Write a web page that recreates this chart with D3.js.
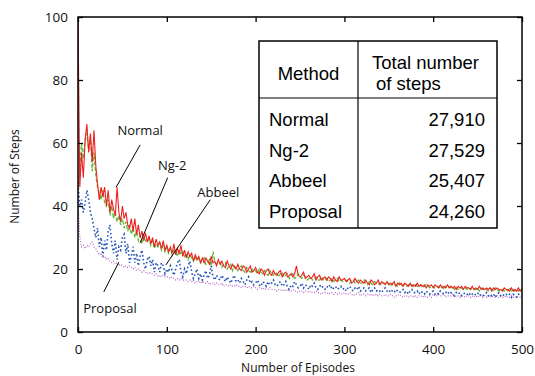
<!DOCTYPE html>
<html>
<head>
<meta charset="utf-8">
<script src="https://cdn.jsdelivr.net/npm/d3@7"></script>
<style>
  body { margin: 0; background: #fff; }
  svg { display: block; }
  .axis path { display: none; }
  .axis line { stroke: #000; stroke-width: 1.3; }
  .axis text { font-family: "Open Sans", sans-serif; font-size: 13.5px; fill: #111; }
  .lbl { font-family: "Open Sans", sans-serif; font-size: 12px; fill: #111; }
  .note { font-family: "Open Sans", sans-serif; font-size: 13px; fill: #111; }
  .tbl { font-family: "Liberation Sans", Arial, sans-serif; font-size: 18.5px; fill: #000; }
</style>
</head>
<body>
<svg id="chart" width="535" height="376"></svg>
<script>
// one value every 2 episodes, episode 0..500
var episodeStep = 2;

var normal = [
  100, 46, 57, 49, 61, 66, 57, 63, 54, 64,
  53, 47, 42, 46, 43, 46, 40, 45, 38, 42,
  39, 37, 46, 38, 35, 40, 36, 38, 34, 33,
  36, 32, 36, 31, 34, 30, 32, 29, 31.5, 28.5,
  30.5, 28, 30, 27, 29.5, 27.5, 28.5, 26.5, 29, 26,
  27.5, 25.5, 27, 25, 28, 24.5, 26.5, 25, 27.5, 24,
  26, 23.5, 25.5, 24, 25, 22.5, 24.5, 23, 24, 22,
  23.5, 22, 23.5, 22.5, 21.5, 24, 22, 22.5, 21, 23,
  21.5, 22.5, 21, 20.5, 22.5, 21, 20, 21.5, 20.5, 20,
  21.5, 20, 19.5, 21, 20.5, 19, 20, 21, 19, 19.5,
  20.5, 19, 18.5, 20, 19.5, 18, 19.5, 20, 18.5, 18,
  19.5, 18.5, 18, 19, 19.5, 17.5, 18.5, 19, 17.5, 18,
  18.5, 17.5, 18.5, 21, 18, 17.5, 18, 19, 17, 17.5,
  18, 17, 17.5, 18.5, 16.5, 17.5, 18, 16.5, 17, 17.5,
  16.5, 17.5, 17, 16, 17.5, 16.5, 16, 17.5, 16.5, 16.5,
  17, 16, 16.5, 17, 15.5, 16, 17, 16, 15.5, 16.5,
  16, 15.5, 16.5, 15.5, 15, 16.5, 16, 15, 15.5, 16.5,
  15, 16, 15.5, 15, 16, 15, 15.5, 15, 16, 14.5,
  15.5, 15, 15.5, 14.5, 15.5, 15, 14.5, 15.5, 14.5, 15,
  14.5, 15.5, 14.5, 15, 14.5, 15, 14, 15, 14.5, 15,
  14, 15, 14.5, 14, 15, 14, 14.5, 14, 15, 14,
  14.5, 14, 14.5, 13.5, 14.5, 14, 14.5, 13.5, 14.5, 14,
  14, 13.5, 14.5, 13.5, 14, 13.5, 14.5, 13.5, 14, 13.5,
  14, 13.5, 14, 13, 14, 13.5, 14, 13.5, 13.5, 13,
  14, 13.5, 13.5, 13, 14, 13, 13.5, 13, 14, 13,
  13.5
];

var ng2 = [
  45, 52, 60, 55, 61, 63, 58, 62, 51, 57,
  50, 46, 44, 42, 45, 41, 40, 42, 37, 40,
  36, 38, 35, 37, 34, 36, 33, 35, 32, 34,
  31, 33, 30, 32, 29, 30.5, 28, 30, 29, 28.5,
  29.5, 27.5, 29, 26.5, 28, 27, 28.5, 26, 27.5, 25.5,
  27, 25, 26.5, 24.5, 26, 25.5, 24, 26, 24.5, 25.5,
  24, 25, 23, 24.5, 23.5, 22.5, 24, 22.5, 23.5, 22,
  22.5, 23.5, 21.5, 22, 23, 21, 25.5, 22.5, 21.5, 22,
  22, 20.5, 21.5, 22, 20, 21, 21.5, 19.5, 21, 20.5,
  19.5, 20.5, 21, 19.5, 19, 20.5, 19.5, 19, 20, 19,
  19.5, 18.5, 20, 19, 18.5, 19.5, 18.5, 18, 19.5, 18.5,
  18, 19, 18.5, 17.5, 18.5, 19, 17.5, 18, 18.5, 17,
  18, 18.5, 17, 17.5, 18.5, 17.5, 17, 18, 17.5, 16.5,
  17, 17.5, 16.5, 17, 17.5, 16.5, 16.5, 17.5, 16.5, 17,
  17, 16, 16.5, 17, 16, 16.5, 17, 16, 16.5, 16,
  16, 16.5, 16, 15.5, 16.5, 16.5, 15.5, 16, 16.5, 15.5,
  15.5, 16.5, 15.5, 15, 16, 15.5, 15, 16, 15.5, 15,
  15.5, 15, 15.5, 15.5, 15, 15.5, 14.5, 15.5, 15, 15,
  14.5, 15.5, 14.5, 15, 15, 14.5, 15, 14.5, 15, 14.5,
  15, 14.5, 14.5, 15, 14, 14.5, 15, 14.5, 14, 14.5,
  14.5, 14, 14.5, 14.5, 14, 14.5, 13.5, 14.5, 14, 14.5,
  14, 14, 13.5, 14.5, 13.5, 14, 14, 13.5, 14, 13.5,
  14, 13.5, 14, 13.5, 13.5, 14, 13, 14, 13.5, 13.5,
  13.5, 13, 14, 13.5, 13, 14, 13.5, 13, 13.5, 13.5,
  13, 13.5, 13, 14, 13, 13.5, 13, 13.5, 13, 13.5,
  13
];

var abbeel = [
  47, 40, 42, 38, 41, 45, 42, 38, 36, 33,
  30, 33, 27, 30, 24, 29, 26, 32, 34, 28,
  25, 29, 23, 27, 26, 30, 31, 25, 28, 22,
  24, 27, 22, 25, 21, 24, 26, 22, 20, 23,
  24, 21, 23, 19, 22, 21, 19, 22, 21, 18.5,
  20, 19, 21, 19.5, 18, 20, 22, 23, 19, 17.5,
  20, 18.5, 21, 22.5, 19, 17, 18.5, 20, 17, 18.5,
  16.5, 18, 19.5, 17, 18, 21, 17.5, 16.5, 18, 17,
  16.5, 18, 17, 16, 17.5, 16.5, 15.5, 17, 18, 16,
  16.5, 15.5, 17, 16, 15, 16.5, 17.5, 15.5, 16, 15,
  15.5, 16.5, 15, 14.5, 16, 15.5, 14.5, 16, 15, 15.5,
  16.5, 15, 14.5, 15.5, 16, 14.5, 15, 16, 14, 13.5,
  15, 14.5, 16, 15, 14, 14.5, 15.5, 14, 15, 14.5,
  13.5, 15, 14.5, 15.5, 14, 13.5, 14.5, 15, 14, 13.5,
  14.5, 14, 15, 13.5, 14, 14.5, 13.5, 14, 14.5, 13.5,
  14, 13, 14, 14.5, 13.5, 13, 14, 13.5, 14.5, 13,
  13.5, 14, 13, 13.5, 14, 12.5, 13.5, 14, 13, 13.5,
  13, 12.5, 13.5, 14, 13, 12.5, 13.5, 13, 12.5, 13.5,
  13, 12.5, 13, 13.5, 12.5, 13, 12, 13, 13.5, 12.5,
  12.5, 13, 12, 13, 12.5, 12, 13, 12.5, 12, 12.5,
  13, 12, 12.5, 12, 13, 12.5, 12, 12.5, 13, 12,
  12.5, 12, 11.5, 12.5, 12, 12.5, 11.5, 12, 12.5, 12,
  11.5, 12.5, 12, 11.5, 12, 12.5, 11.5, 12, 11.5, 12,
  12.5, 11.5, 12, 11.5, 12, 11, 12, 12.5, 11.5, 12,
  11.5, 12, 11.5, 12, 11, 12, 11.5, 11, 12, 11.5,
  11.5
];

var proposal = [
  42, 30, 27, 27.5, 26.5, 27.5, 27, 28, 28.5, 27,
  26.5, 25.5, 24.5, 25, 23.5, 24, 23, 23.5, 22.5, 22,
  22.5, 21.5, 22, 21, 21.5, 21, 20.5, 21, 20.5, 21,
  20.5, 20, 20.5, 19.5, 20, 19.5, 19, 19.5, 19, 18.5,
  19, 18.5, 18.5, 18, 18.5, 17.5, 18, 17.5, 18, 17.5,
  17.5, 17.5, 17, 17.5, 17, 16.5, 17, 16.5, 17, 16.5,
  16.5, 16.5, 16, 16.5, 16, 16.5, 15.5, 16, 16, 15.5,
  16, 15.5, 15.5, 16, 15, 15.5, 15.5, 15, 15.5, 15,
  15, 15.5, 14.5, 15, 15, 14.5, 15, 14.5, 14.5, 15,
  14.5, 14.5, 14, 14.5, 14.5, 14, 14.5, 14, 14, 14.5,
  14, 13.5, 14, 14, 13.5, 14, 13.5, 13.5, 14, 13.5,
  13.5, 13.5, 13, 13.5, 13.5, 13, 13.5, 13, 13.5, 13,
  13, 13.5, 13, 13, 12.5, 13, 13, 12.5, 13, 13,
  12.5, 13, 12.5, 12.5, 13, 12.5, 12.5, 12, 12.5, 12.5,
  12.5, 12, 12.5, 12.5, 12, 12.5, 12, 12.5, 12, 12,
  12.5, 12, 12, 12.5, 12, 11.5, 12, 12, 12.5, 11.5,
  12, 12, 11.5, 12, 12, 11.5, 12, 11.5, 12, 11.5,
  12, 11.5, 11.5, 12, 11.5, 11.5, 12, 11.5, 11, 11.5,
  11.5, 12, 11.5, 11, 11.5, 11.5, 11, 11.5, 11.5, 11,
  11.5, 11, 11.5, 11.5, 11, 11.5, 11, 11, 11.5, 11,
  12, 11.5, 11.5, 12, 11.5, 11.5, 12, 11, 11.5, 11.5,
  11.5, 12, 11, 11.5, 11.5, 11, 11.5, 11.5, 11, 11.5,
  11.5, 11, 11.5, 11, 11.5, 11, 11.5, 11.5, 11, 11.5,
  11, 11.5, 11, 11.5, 11, 11, 11.5, 11, 11.5, 11,
  11, 11.5, 11, 11, 11.5, 11, 11, 11.5, 11, 11,
  11
];

var xTicks = [0, 100, 200, 300, 400, 500];
var yTicks = [0, 20, 40, 60, 80, 100];

var methods = ["Normal", "Ng-2", "Abbeel", "Proposal"];
var totals = ["27,910", "27,529", "25,407", "24,260"];

// callout labels, in data units: text anchor, then leader line ends
var notes = [
  { text: "Normal",   tx: 70,  ty: 62.5, x1: 70,  y1: 59.4, x2: 43, y2: 46 },
  { text: "Ng-2",     tx: 106, ty: 51.5, x1: 101, y1: 49,   x2: 70, y2: 28.3 },
  { text: "Abbeel",   tx: 158, ty: 43,   x1: 149, y1: 42,   x2: 99, y2: 21.3 },
  { text: "Proposal", tx: 36,  ty: 6,    x1: 29,  y1: 12.7, x2: 46, y2: 22.2 }
];

var margin = { top: 17, right: 13, bottom: 44, left: 78 };
var svg = d3.select("#chart");
var width = 535 - margin.left - margin.right;
var height = 376 - margin.top - margin.bottom;
var g = svg.append("g").attr("transform", "translate(" + margin.left + "," + margin.top + ")");

var xScale = d3.scaleLinear().domain([0, 500]).range([0, width]);
var yScale = d3.scaleLinear().domain([0, 100]).range([height, 0]);

g.append("clipPath").attr("id", "clip")
  .append("rect").attr("width", width).attr("height", height);

var line = d3.line()
  .x(function (d, i) { return xScale(i * episodeStep); })
  .y(function (d) { return yScale(d); });

var series = [
  { data: proposal, color: "#b864c8", w: 1.2, dash: "1,1.6" },
  { data: abbeel,   color: "#2755b8", w: 1.6, dash: "1.6,2.4" },
  { data: ng2,      color: "#62b83c", w: 1.3, dash: "4,1.8" },
  { data: normal,   color: "#f02020", w: 1.1, dash: null }
];

var plot = g.append("g").attr("clip-path", "url(#clip)");
series.forEach(function (s) {
  plot.append("path")
    .datum(s.data)
    .attr("fill", "none")
    .attr("stroke", s.color)
    .attr("stroke-width", s.w)
    .attr("stroke-dasharray", s.dash)
    .attr("d", line);
});

// axes, ticks pointing inward
g.append("g").attr("class", "axis")
  .attr("transform", "translate(0," + height + ")")
  .call(d3.axisBottom(xScale).tickValues(xTicks).tickSizeInner(-5).tickSizeOuter(0).tickPadding(12));
g.append("g").attr("class", "axis")
  .call(d3.axisLeft(yScale).tickValues(yTicks).tickSizeInner(-5).tickSizeOuter(0).tickPadding(10));
g.append("g").attr("class", "axis")
  .call(d3.axisTop(xScale).tickValues(xTicks).tickSizeInner(-5).tickSizeOuter(0).tickFormat(""));
g.append("g").attr("class", "axis")
  .attr("transform", "translate(" + width + ",0)")
  .call(d3.axisRight(yScale).tickValues(yTicks).tickSizeInner(-5).tickSizeOuter(0).tickFormat(""));

g.append("rect")
  .attr("width", width).attr("height", height)
  .attr("fill", "none").attr("stroke", "#000").attr("stroke-width", 1.5);

svg.append("text").attr("class", "lbl")
  .attr("transform", "translate(19," + (margin.top + height / 2 + 2) + ")rotate(-90)")
  .attr("text-anchor", "middle")
  .text("Number of Steps");
svg.append("text").attr("class", "lbl")
  .attr("x", margin.left + width / 2 - 2).attr("y", 372)
  .attr("text-anchor", "middle")
  .text("Number of Episodes");

// callouts
notes.forEach(function (n) {
  g.append("line")
    .attr("x1", xScale(n.x1)).attr("y1", yScale(n.y1))
    .attr("x2", xScale(n.x2)).attr("y2", yScale(n.y2))
    .attr("stroke", "#000").attr("stroke-width", 1);
  g.append("text").attr("class", "note")
    .attr("x", xScale(n.tx)).attr("y", yScale(n.ty))
    .attr("text-anchor", "middle")
    .text(n.text);
});

// results table
var tb = svg.append("g").attr("transform", "translate(259,41)");
var tw = 238, th = 187, colX = 99, headH = 57, rowH = 30.5;
tb.append("rect").attr("width", tw).attr("height", th)
  .attr("fill", "#fff").attr("stroke", "#000").attr("stroke-width", 1.5);
tb.append("line").attr("x1", 0).attr("x2", tw).attr("y1", headH).attr("y2", headH)
  .attr("stroke", "#000").attr("stroke-width", 1.2);
tb.append("line").attr("x1", colX).attr("x2", colX).attr("y1", 0).attr("y2", th)
  .attr("stroke", "#000").attr("stroke-width", 1.2);
tb.append("text").attr("class", "tbl").attr("x", colX / 2).attr("y", 39)
  .attr("text-anchor", "middle").text("Method");
tb.append("text").attr("class", "tbl").attr("x", 113).attr("y", 28).text("Total number");
tb.append("text").attr("class", "tbl").attr("x", 117).attr("y", 49).text("of steps");
methods.forEach(function (m, i) {
  var yy = headH + 28 + i * rowH;
  tb.append("text").attr("class", "tbl").attr("x", 10).attr("y", yy).text(m);
  tb.append("text").attr("class", "tbl").attr("x", 226).attr("y", yy)
    .attr("text-anchor", "end").text(totals[i]);
});
</script>
</body>
</html>
